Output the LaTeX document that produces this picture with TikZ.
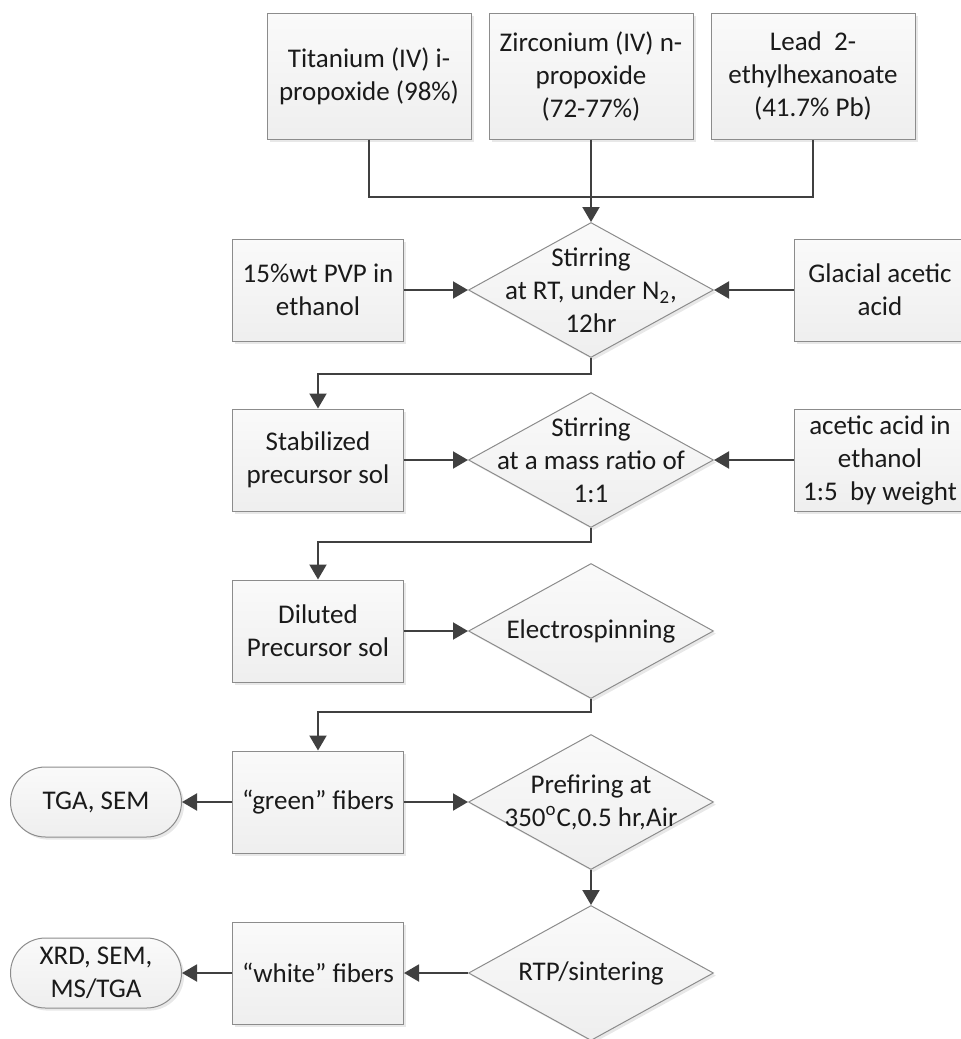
\documentclass[tikz,border=0pt]{standalone}
\usepackage{fontspec}
\setmainfont{Carlito}
\usetikzlibrary{shapes.geometric}
\usetikzlibrary{arrows.meta}
\usetikzlibrary{shadows}

\definecolor{linegray}{HTML}{404040}
\definecolor{edgegray}{HTML}{8C8C8C}
\definecolor{textgray}{HTML}{1A1A1A}

\begin{document}
\begin{tikzpicture}[x=0.5pt,y=-0.5pt,
  font=\fontsize{13.5}{16.5}\selectfont, text=textgray,
  shade/.style={top color=gray!4, bottom color=gray!13, draw=edgegray, line width=0.5pt,
    drop shadow={shadow xshift=1.3pt, shadow yshift=-1.3pt, fill=gray!35}},
  topbox/.style={rectangle, shade, align=center, inner sep=0pt, minimum width=102pt, minimum height=63pt},
  procbox/.style={rectangle, shade, align=center, inner sep=0pt, minimum width=85.5pt, minimum height=51pt},
  endterm/.style={rectangle, shade, rounded corners=17.5pt, align=center, inner sep=0pt, minimum width=85.5pt, minimum height=35pt},
  decide/.style={diamond, shade, inner sep=0pt, minimum width=122.5pt, minimum height=67.5pt},
  link/.style={draw=linegray, line width=1pt},
  flowarr/.style={link, -{Triangle[length=7.5pt,width=8.5pt]}}]

\useasboundingbox (0,0) rectangle (961,1039);

% starting chemicals
\node[topbox] (ti) at (369,76) {Titanium (IV) i-\\propoxide (98\%)};
\node[topbox] (zr) at (591,76) {Zirconium (IV) n-\\propoxide\\(72-77\%)};
\node[topbox] (pb) at (813,76) {Lead\ \ 2-\\ethylhexanoate\\(41.7\% Pb)};

% mixing steps
\node[decide, label={[align=center]center:{Stirring\\at RT, under N\textsubscript{2},\\12hr}}] (stir1) at (591,290) {};
\node[procbox] (pvp) at (318,290) {15\%wt PVP in\\ethanol};
\node[procbox] (glac) at (880,290) {Glacial acetic\\acid};

\node[decide, label={[align=center]center:{Stirring\\at a mass ratio of\\1:1}}] (stir2) at (591,460) {};
\node[procbox] (stab) at (318,460) {Stabilized\\precursor sol};
\node[procbox] (acet) at (880,460) {acetic acid in\\ethanol\\1:5\ \ by weight};

\node[decide, label={center:Electrospinning}] (spin) at (591,631) {};
\node[procbox] (dil) at (318,631) {Diluted\\Precursor sol};

% fibers and analysis
\node[decide, label={[align=center]center:{Prefiring at\\350\textsuperscript{o}C,0.5 hr,Air}}] (pre) at (591,802) {};
\node[procbox] (green) at (318,802) {“green” fibers};
\node[endterm] (tga) at (96,802) {TGA, SEM};

\node[decide, label={center:RTP/sintering}] (rtp) at (591,973) {};
\node[procbox] (white) at (318,973) {“white” fibers};
\node[endterm] (xrd) at (96,973) {XRD, SEM,\\MS/TGA};

\coordinate (join) at (591,197);

\draw[link] (ti.south) |- (join) -| (pb.south);
\draw[flowarr] (zr.south) -- (stir1.north);
\draw[flowarr] (pvp.east) -- (stir1.west);
\draw[flowarr] (glac.west) -- (stir1.east);

\draw[flowarr] (stir1.south) -- ++(0,16) -| (stab.north);
\draw[flowarr] (stab.east) -- (stir2.west);
\draw[flowarr] (acet.west) -- (stir2.east);

\draw[flowarr] (stir2.south) -- ++(0,14) -| (dil.north);
\draw[flowarr] (dil.east) -- (spin.west);

\draw[flowarr] (spin.south) -- ++(0,13) -| (green.north);
\draw[flowarr] (green.west) -- (tga.east);
\draw[flowarr] (green.east) -- (pre.west);

\draw[flowarr] (pre.south) -- (rtp.north);
\draw[flowarr] (rtp.west) -- (white.east);
\draw[flowarr] (white.west) -- (xrd.east);

\end{tikzpicture}
\end{document}
